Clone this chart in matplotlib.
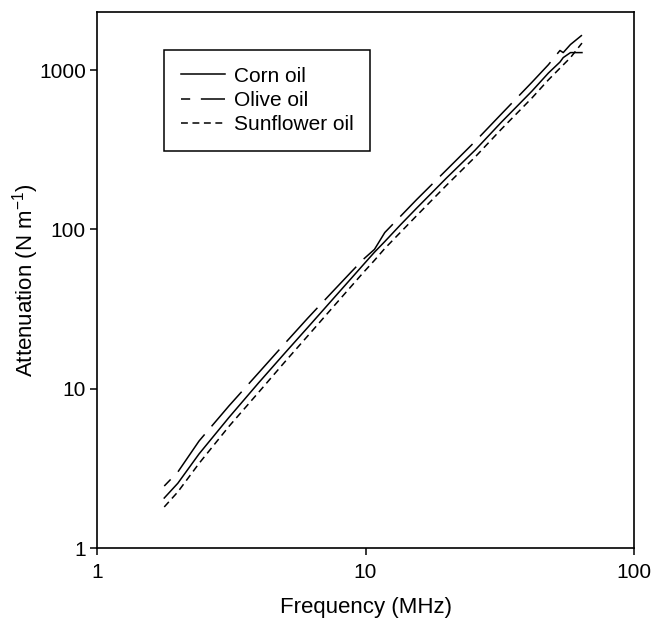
import numpy as np
import matplotlib
matplotlib.use("Agg")
import matplotlib.pyplot as plt
from matplotlib.ticker import FixedLocator, FixedFormatter, NullLocator

plt.rcParams['font.family'] = ['Liberation Sans', 'DejaVu Sans']
plt.rcParams['mathtext.fontset'] = 'custom'
plt.rcParams['mathtext.rm'] = 'Liberation Sans'
plt.rcParams['mathtext.it'] = 'Liberation Sans'

# Frecuencias (MHz)
frecuencia = [1.78, 2.0, 2.4, 3.1, 4.0, 5.0, 6.1, 7.5, 8.8, 9.8, 10.8, 11.8,
              13.5, 15.5, 20, 25.6, 32, 41.7, 48, 53, 54.5, 58, 64]

# Atenuacion (N m^-1) de cada aceite
maiz = [2.06, 2.55, 3.9, 6.6, 10.9, 16.7, 24.3, 36.0, 48.8, 59.9, 72, 84,
        107, 136, 210, 315, 470, 740, 960, 1125, 1200, 1290, 1290]
oliva = [2.45, 3.0, 4.7, 7.8, 12.6, 19.2, 27.8, 40.3, 53.6, 64.8, 75, 95.7,
         121, 154, 236, 357, 529, 841, 1083, 1330, 1290, 1450, 1660]
girasol = [1.81, 2.25, 3.4, 5.8, 9.5, 14.7, 21.5, 32, 43.5, 53.5, 64, 76,
           96, 122, 189, 285, 425, 670, 870, 1030, 1080, 1200, 1480]

ticks_x = [1, 10, 100]
ticks_y = [1, 10, 100, 1000]

fig = plt.figure(figsize=(6.54, 6.24), dpi=100)
ax = fig.add_axes([97/654, 1-548/624, 537/654, 536/624])

lw = 1.1
ax.plot(frecuencia, maiz, color='black', lw=lw, ls='-', label='Corn oil')
ax.plot(frecuencia, oliva, color='black', lw=lw, ls=(24, (30, 7)), label='Olive oil')
ax.plot(frecuencia, girasol, color='black', lw=lw, ls=(0, (4.5, 3)), label='Sunflower oil')

ax.set_xscale('log')
ax.set_yscale('log')
ax.set_xlim(1, 100)
ax.set_ylim(1, 2320)

ax.xaxis.set_major_locator(FixedLocator(ticks_x))
ax.xaxis.set_major_formatter(FixedFormatter([str(t) for t in ticks_x]))
ax.yaxis.set_major_locator(FixedLocator(ticks_y))
ax.yaxis.set_major_formatter(FixedFormatter([str(t) for t in ticks_y]))
ax.xaxis.set_minor_locator(NullLocator())
ax.yaxis.set_minor_locator(NullLocator())

ax.tick_params(direction='out', length=5, width=1.1, labelsize=15)
ax.tick_params(axis='x', pad=6)
ax.tick_params(axis='y', pad=3)
for s in ax.spines.values():
    s.set_linewidth(1.2)

ax.set_xlabel('Frequency (MHz)', fontsize=16)
ax.set_ylabel('Attenuation (N m$^{-1}$)', fontsize=16)
ax.xaxis.set_label_coords(0.5, -0.091)
ax.yaxis.set_label_coords(-0.104, 0.5)

leg = ax.legend(loc='upper left', bbox_to_anchor=(0.125, 0.929), fontsize=15,
                frameon=True, fancybox=False, framealpha=1, edgecolor='black',
                handlelength=2.1, handletextpad=0.45, borderpad=0.8,
                labelspacing=0.25, borderaxespad=0)
leg.get_frame().set_linewidth(1.1)

plt.savefig('out.png', dpi=100)
